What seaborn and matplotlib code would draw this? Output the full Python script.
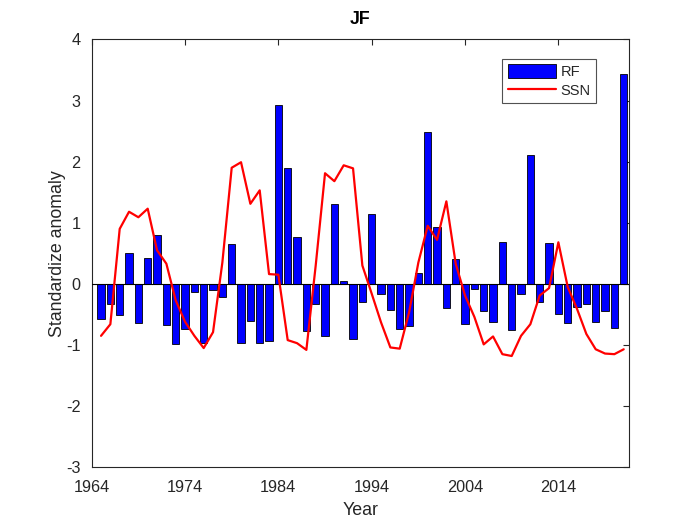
import numpy as np
import pandas as pd
import matplotlib
matplotlib.use("Agg")
import matplotlib.pyplot as plt
import seaborn as sns

years = list(range(1965, 2022))
rf = [-0.57, -0.33, -0.51, 0.51, -0.64, 0.43, 0.80, -0.67, -0.98, -0.74,
      -0.14, -0.96, -0.10, -0.21, 0.66, -0.96, -0.61, -0.96, -0.94, 2.92,
      1.89, 0.76, -0.77, -0.33, -0.85, 1.30, 0.04, -0.91, -0.30, 1.15,
      -0.16, -0.43, -0.74, -0.69, 0.18, 2.49, 0.93, -0.39, 0.41, -0.65,
      -0.09, -0.45, -0.63, 0.68, -0.76, -0.17, 2.11, -0.30, 0.67, -0.50,
      -0.64, -0.38, -0.33, -0.63, -0.44, -0.72, 3.44]
ssn = [-0.85, -0.66, 0.90, 1.18, 1.09, 1.23, 0.55, 0.33, -0.27, -0.62,
       -0.85, -1.05, -0.79, 0.35, 1.90, 1.99, 1.31, 1.53, 0.16, 0.15,
       -0.92, -0.97, -1.08, 0.30, 1.81, 1.68, 1.94, 1.89, 0.30, -0.16,
       -0.63, -1.04, -1.06, -0.47, 0.35, 0.95, 0.72, 1.35, 0.33, -0.19,
       -0.54, -0.99, -0.86, -1.15, -1.18, -0.85, -0.66, -0.19, -0.07, 0.68,
       -0.05, -0.41, -0.82, -1.07, -1.14, -1.15, -1.07]
xticks = [1964, 1974, 1984, 1994, 2004, 2014]
yticks = [-3, -2, -1, 0, 1, 2, 3, 4]

df = pd.DataFrame({"Year": years, "RF": rf, "SSN": ssn})

sns.set_theme(style="white")
plt.rcParams['font.family'] = ['Liberation Sans', 'DejaVu Sans']
plt.rcParams['axes.unicode_minus'] = False
gray = '#262626'

fig = plt.figure(figsize=(7, 5.25), dpi=100)
ax = fig.add_axes([0.131, 0.11, 0.768, 0.815])

sns.barplot(data=df, x="Year", y="RF", native_scale=True, width=0.8,
            color=(0, 0, 1), saturation=1, edgecolor='black', linewidth=0.6,
            ax=ax, label="RF", zorder=2)
ax.axhline(0, color='black', lw=0.8, zorder=3)
sns.lineplot(data=df, x="Year", y="SSN", color=(1, 0, 0), lw=1.6, ax=ax,
             label="SSN", zorder=4)

ax.set_xlim(1964, 2021.6)
ax.set_ylim(-3, 4)
ax.set_xticks(xticks)
ax.set_xticklabels([str(t) for t in xticks])
ax.set_yticks(yticks)
ax.tick_params(direction='in', length=4, width=0.8, top=True, right=True,
               colors=gray, labelsize=11.7, labelcolor=gray)
ax.tick_params(axis='x', pad=9)
ax.tick_params(axis='y', pad=8)
for s in ax.spines.values():
    s.set_color(gray)
    s.set_linewidth(0.8)
    s.set_visible(True)

ax.set_xlabel("Year", fontsize=12.8, color=gray, labelpad=5)
ax.set_ylabel("Standardize anomaly", fontsize=12.8, color=gray, labelpad=0)
ax.set_title("JF", fontsize=12.8, fontweight='bold', color='black', pad=11)

handles, labels = ax.get_legend_handles_labels()
order = [labels.index("RF"), labels.index("SSN")]
leg = ax.legend([handles[i] for i in order], [labels[i] for i in order],
                loc='upper right', bbox_to_anchor=(0.9385, 0.955), fontsize=10.5,
                frameon=True, fancybox=False, edgecolor=gray,
                handlelength=3.3, handleheight=1.05, borderpad=0.4,
                labelspacing=0.25, handletextpad=0.3, borderaxespad=0)
leg.get_frame().set_linewidth(0.8)
for t in leg.get_texts():
    t.set_color(gray)

fig.savefig("out.png", dpi=100)
